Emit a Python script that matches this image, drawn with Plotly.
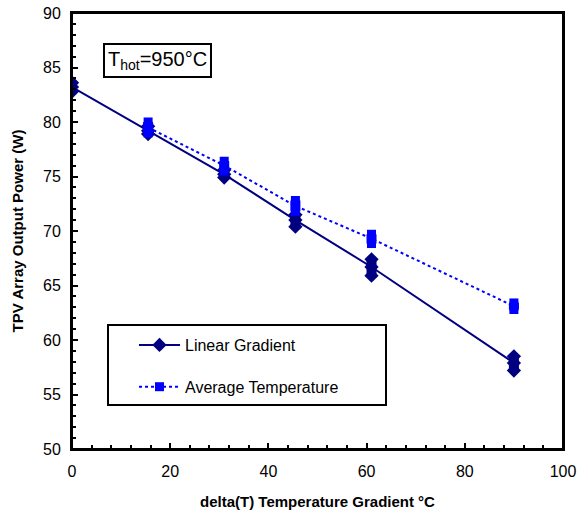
import plotly.graph_objects as go

# Data
x_lin = [0, 15.5, 31, 45.5, 61, 90]
lin_mid = [83.2, 79.2, 75.2, 71.0, 66.7, 57.9]
lin_hi = [83.6, 79.6, 75.6, 71.5, 67.4, 58.5]
lin_lo = [82.8, 78.9, 74.9, 70.4, 65.9, 57.2]

x_avg = [15.5, 31, 45.5, 61, 90]
avg_mid = [79.5, 76.0, 72.3, 69.3, 63.1]
avg_hi = [80.0, 76.4, 72.8, 69.7, 63.4]
avg_lo = [79.0, 75.5, 71.8, 68.85, 62.8]

x_ticks = [0, 20, 40, 60, 80, 100]
y_ticks = [50, 55, 60, 65, 70, 75, 80, 85, 90]

NAVY = "#000080"
BLUE = "#0000FF"
FONT = "Arial, Liberation Sans, sans-serif"

W, H = 581, 512
# plot area in page pixels: x 72..563, y 13..449
L, R, T, B = 72, 581 - 563, 13, 512 - 449
pw, ph = W - L - R, H - T - B


def px_x(p):
    return (p - L) / pw


def px_y(p):
    return 1 - (p - T) / ph


def spans(xs, lo, hi):
    sx, sy = [], []
    for x, a, b in zip(xs, lo, hi):
        sx += [x, x, None]
        sy += [a, b, None]
    return sx, sy


fig = go.Figure()

# Linear gradient: vertical spread of readings
sx, sy = spans(x_lin, lin_lo, lin_hi)
fig.add_trace(go.Scatter(x=sx, y=sy, mode="lines", showlegend=False,
                         line=dict(color=NAVY, width=10), hoverinfo="skip"))
fig.add_trace(go.Scatter(
    x=x_lin + x_lin, y=lin_hi + lin_lo, mode="markers", showlegend=False,
    marker=dict(symbol="diamond", size=11, color=NAVY),
))
fig.add_trace(go.Scatter(
    x=x_lin, y=lin_mid, mode="lines+markers", name="Linear Gradient",
    legendgroup="a",
    line=dict(color=NAVY, width=2),
    marker=dict(symbol="diamond", size=11, color=NAVY),
))

# Average temperature
sx, sy = spans(x_avg, avg_lo, avg_hi)
fig.add_trace(go.Scatter(x=sx, y=sy, mode="lines", showlegend=False,
                         line=dict(color=BLUE, width=10), hoverinfo="skip"))
fig.add_trace(go.Scatter(
    x=x_avg + x_avg, y=avg_hi + avg_lo, mode="markers", showlegend=False,
    marker=dict(symbol="square", size=9, color=BLUE),
))
fig.add_trace(go.Scatter(
    x=x_avg, y=avg_mid, mode="lines+markers", name="Average Temperature",
    legendgroup="b",
    line=dict(color=BLUE, width=2, dash="dot"),
    marker=dict(symbol="square", size=9, color=BLUE),
))

axis_common = dict(
    showgrid=False, zeroline=False, showline=True, linecolor="black",
    linewidth=2, mirror=True, ticks="inside", tickcolor="black",
    tickwidth=2, ticklen=6, automargin=False, ticklabeloverflow="allow",
    tickfont=dict(family=FONT, size=16, color="black"),
)

fig.update_xaxes(
    range=[0, 100], tickvals=x_ticks, ticktext=[str(v) for v in x_ticks],
    minor=dict(dtick=4, ticks="inside", ticklen=4, tickwidth=2, tickcolor="black"),
    ticklabelstandoff=7,
    title=dict(text="<b>delta(T) Temperature Gradient °C</b>",
               font=dict(family=FONT, size=15, color="black"), standoff=17),
    **axis_common,
)
fig.update_yaxes(
    range=[50, 90], tickvals=y_ticks, ticktext=[str(v) for v in y_ticks],
    minor=dict(dtick=1, ticks="inside", ticklen=4, tickwidth=2, tickcolor="black"),
    ticklabelstandoff=6,
    title=dict(text="<b>TPV Array Output Power (W)</b>",
               font=dict(family=FONT, size=15, color="black"), standoff=16),
    **axis_common,
)

# Plot frame (ensures the top edge is drawn)
fig.add_shape(type="rect", xref="paper", yref="paper", x0=0, x1=1, y0=0, y1=1,
              line=dict(color="black", width=2), layer="above")

# Legend frame
fig.add_shape(type="rect", xref="paper", yref="paper",
              x0=px_x(108), x1=px_x(386), y0=px_y(405), y1=px_y(325),
              line=dict(color="black", width=2), fillcolor="white", layer="below")

fig.add_annotation(
    text="T<sub>hot</sub>=950°C", xref="paper", yref="paper",
    x=px_x(103), y=px_y(43), xanchor="left", yanchor="top", showarrow=False,
    font=dict(family=FONT, size=20, color="black"),
    bordercolor="black", borderwidth=2, borderpad=3, bgcolor="white",
)

fig.update_layout(
    width=W, height=H,
    margin=dict(l=L, r=R, t=T, b=B, autoexpand=False),
    paper_bgcolor="white", plot_bgcolor="white",
    showlegend=True,
    legend=dict(
        x=px_x(134), y=px_y(328), xanchor="left", yanchor="top",
        bgcolor="rgba(0,0,0,0)", borderwidth=0, itemwidth=41,
        font=dict(family=FONT, size=16, color="black"),
        traceorder="grouped", tracegroupgap=18,
    ),
)

fig.write_html("out.html", config={"displayModeBar": False},
               post_script="document.body.style.margin='0';")
